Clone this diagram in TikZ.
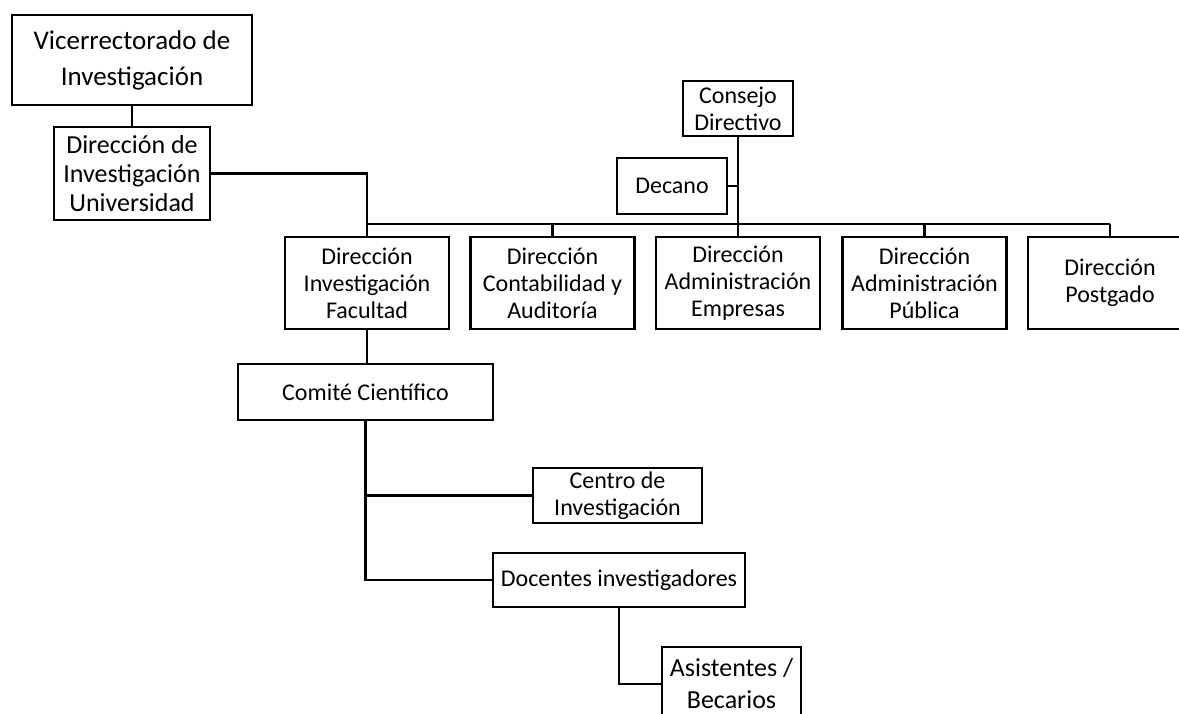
\documentclass[tikz,border=0pt]{standalone}
\usepackage{fontspec}
\setmainfont{Carlito}
\usetikzlibrary{calc}

\begin{document}
\begin{tikzpicture}[x=0.5pt,y=-0.5pt,line width=1.4pt,
  caja/.style={draw,align=center,inner sep=1pt,font=\fontsize{12}{13.5}\selectfont},
  cajag/.style={caja,font=\fontsize{13}{14.5}\selectfont},
  dir/.style={caja,minimum width=82pt,minimum height=46pt}]
\useasboundingbox (0,0) rectangle (1179,713);
% universidad
\node[caja,font=\fontsize{13.5}{18}\selectfont,minimum width=120pt,minimum height=45pt] (vic) at (132,60) {Vicerrectorado de\\Investigación};
\node[cajag,minimum width=78pt,minimum height=46.5pt] (diu) at (132,173.5) {Dirección de\\Investigación\\Universidad};
% facultad
\node[caja,minimum width=55pt,minimum height=27.5pt] (con) at (738,108.5) {Consejo\\Directivo};
\node[caja,minimum width=55pt,minimum height=28pt] (dec) at (672,186) {Decano};
\node[dir] (dif) at (367,283) {Dirección\\Investigación\\Facultad};
\node[dir] (dca) at (552.5,283) {Dirección\\Contabilidad y\\Auditoría};
\node[dir] (dae) at (738,283) {Dirección\\Administración\\Empresas};
\node[dir] (dap) at (924.5,283) {Dirección\\Administración\\Pública};
\node[dir] (dpg) at (1110,283) {Dirección\\Postgado};
% investigacion
\node[caja,minimum width=127.5pt,minimum height=28pt] (com) at (365.5,392) {Comité Científico};
\node[caja,minimum width=84.5pt,minimum height=27.5pt] (cen) at (617.5,495.5) {Centro de\\Investigación};
\node[caja,minimum width=126pt,minimum height=27pt] (doc) at (619,580) {Docentes investigadores};
\node[cajag,font=\fontsize{13}{16}\selectfont,minimum width=69.5pt,minimum height=37pt] (asi) at (731.5,684) {Asistentes /\\Becarios};
% lineas
\coordinate (bus) at (0,224);
\draw (vic) -- (diu);
\draw (diu.east) -| (dif.north);
\draw (dif.north |- bus) -- (dpg.north |- bus);
\foreach \n in {dca,dae,dap,dpg} \draw (\n.north) -- (\n.north |- bus);
\draw (con.south) -- (con.south |- bus);
\draw (dec.east) -- (dec.east -| con.south);
\draw (dif.south) -- (dif.south |- com.north);
\draw (com.south) |- (doc.west);
\draw (com.south |- cen.west) -- (cen.west);
\draw (doc.south) |- (asi.west);
\end{tikzpicture}
\end{document}
